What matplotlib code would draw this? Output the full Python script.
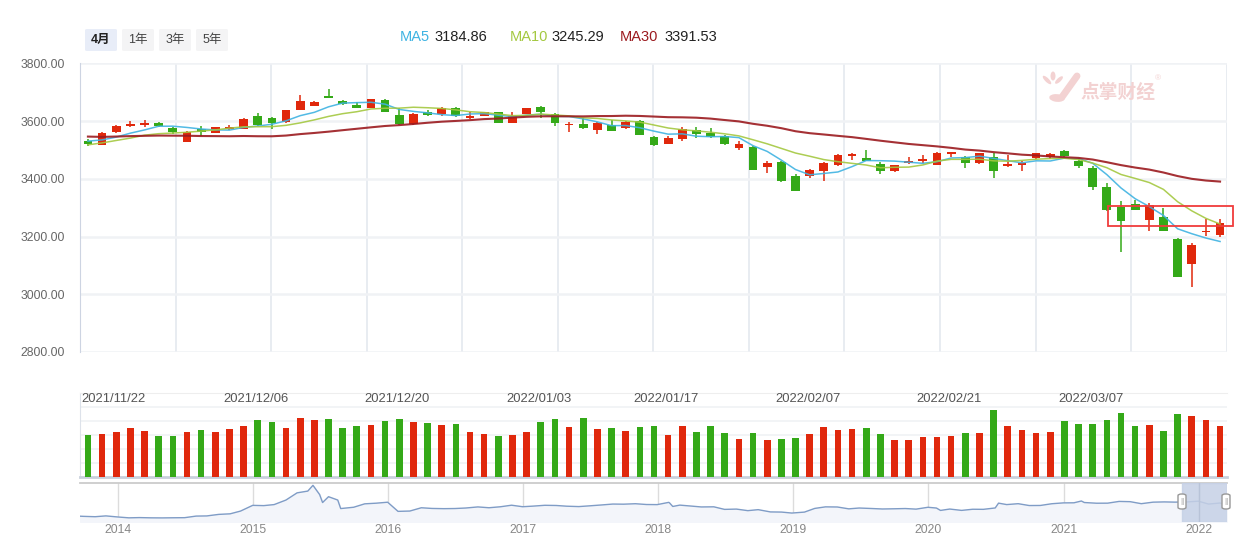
import numpy as np
import pandas as pd
import matplotlib
matplotlib.use("Agg")
import matplotlib.pyplot as plt
from matplotlib.patches import Rectangle, FancyBboxPatch, Ellipse
from matplotlib.lines import Line2D

plt.rcParams['font.family'] = ['Liberation Sans', 'Noto Sans CJK SC', 'DejaVu Sans']

# daily candles, first bar 2021/11/18, last bar 2022/03/18
opens = [3530, 3518, 3561, 3582, 3587, 3593, 3576, 3528, 3572, 3560,
         3572, 3574, 3616, 3610, 3595, 3639, 3653, 3687, 3670, 3655,
         3646, 3673, 3621, 3590, 3633, 3626, 3644, 3610, 3618, 3630,
         3594, 3626, 3649, 3626, 3586, 3590, 3570, 3587, 3576, 3600,
         3545, 3521, 3538, 3569, 3558, 3549, 3507, 3511, 3441, 3457,
         3409, 3408, 3427, 3447, 3480, 3471, 3450, 3428, 3454, 3460,
         3448, 3485, 3477, 3454, 3475, 3444, 3447, 3471, 3476, 3495,
         3461, 3439, 3370, 3302, 3311, 3257, 3269, 3190, 3104, 3215,
         3205]
highs = [3537, 3563, 3586, 3599, 3603, 3597, 3578, 3564, 3584, 3580,
         3586, 3610, 3628, 3614, 3639, 3690, 3668, 3711, 3673, 3667,
         3677, 3675, 3644, 3627, 3639, 3647, 3647, 3632, 3632, 3632,
         3630, 3646, 3651, 3629, 3598, 3609, 3595, 3605, 3600, 3603,
         3549, 3549, 3579, 3580, 3576, 3551, 3530, 3513, 3462, 3460,
         3415, 3434, 3458, 3485, 3489, 3499, 3457, 3449, 3475, 3482,
         3493, 3493, 3480, 3490, 3489, 3482, 3462, 3491, 3488, 3499,
         3468, 3445, 3384, 3322, 3326, 3315, 3298, 3196, 3176, 3260,
         3260]
lows = [3514, 3516, 3559, 3578, 3578, 3581, 3555, 3526, 3549, 3557,
        3568, 3572, 3584, 3572, 3593, 3637, 3651, 3679, 3656, 3644,
        3644, 3630, 3587, 3588, 3618, 3618, 3613, 3607, 3616, 3593,
        3593, 3624, 3610, 3584, 3563, 3574, 3555, 3564, 3572, 3550,
        3515, 3519, 3532, 3541, 3541, 3518, 3500, 3431, 3419, 3390,
        3358, 3402, 3393, 3444, 3466, 3462, 3418, 3424, 3452, 3456,
        3446, 3475, 3438, 3452, 3401, 3440, 3427, 3468, 3470, 3476,
        3437, 3362, 3289, 3146, 3292, 3219, 3219, 3061, 3025, 3202,
        3198]
closes = [3520, 3560, 3583, 3590, 3593, 3584, 3561, 3561, 3563, 3578,
          3580, 3607, 3586, 3593, 3638, 3669, 3665, 3681, 3658, 3646,
          3675, 3632, 3590, 3624, 3621, 3644, 3616, 3617, 3630, 3594,
          3618, 3644, 3632, 3594, 3590, 3577, 3593, 3566, 3596, 3552,
          3518, 3541, 3571, 3555, 3544, 3521, 3522, 3431, 3456, 3393,
          3358, 3431, 3454, 3482, 3486, 3463, 3428, 3447, 3463, 3467,
          3491, 3492, 3454, 3488, 3428, 3451, 3456, 3488, 3485, 3478,
          3445, 3372, 3292, 3254, 3292, 3308, 3219, 3061, 3169, 3217,
          3248]
volumes = [4200, 4300, 4500, 4900, 4600, 4100, 4100, 4500, 4700, 4500,
           4800, 5100, 5700, 5500, 4900, 5900, 5700, 5800, 4900, 5100,
           5200, 5600, 5800, 5500, 5400, 5200, 5300, 4500, 4300, 4100,
           4200, 4500, 5500, 5800, 5000, 5900, 4800, 4900, 4600, 5000,
           5100, 4200, 5100, 4500, 5100, 4400, 3800, 4400, 3700, 3800,
           3900, 4300, 5000, 4700, 4800, 4900, 4300, 3700, 3700, 4000,
           4000, 4100, 4400, 4400, 6700, 5100, 4700, 4400, 4500, 5600,
           5300, 5300, 5700, 6400, 5100, 5200, 4600, 6300, 6100, 5700,
           5100]
# 29 closes before the first bar, needed for the moving averages
prior_closes = [3592, 3546, 3547, 3561, 3558, 3572, 3568, 3593, 3587, 3594,
                3583, 3609, 3598, 3562, 3518, 3547, 3545, 3506, 3498, 3526,
                3492, 3499, 3508, 3492, 3532, 3539, 3534, 3522, 3537]

date_labels = ["2021/11/22", "2021/12/06", "2021/12/20", "2022/01/03",
               "2022/01/17", "2022/02/07", "2022/02/21", "2022/03/07"]
date_label_bars = [0, 10, 20, 30, 39, 49, 59, 69]

ma_names = ["MA5", "MA10", "MA30"]
ma_last = ["3184.86", "3245.29", "3391.53"]
buttons = ["4月", "1年", "3年", "5年"]

# long history shown in the slider below
ov_dates = ["2013-09-20", "2013-09-30", "2013-10-31", "2013-11-29", "2013-12-31",
            "2014-01-30", "2014-02-28", "2014-03-31", "2014-04-30", "2014-05-30",
            "2014-06-30", "2014-07-31", "2014-08-29", "2014-09-30", "2014-10-31",
            "2014-11-28", "2014-12-31", "2015-01-30", "2015-02-27", "2015-03-31",
            "2015-04-30", "2015-05-29", "2015-06-12", "2015-06-30", "2015-07-08",
            "2015-07-24", "2015-08-18", "2015-08-26", "2015-09-30", "2015-10-30",
            "2015-11-30", "2015-12-31", "2016-01-28", "2016-02-29", "2016-03-31",
            "2016-04-29", "2016-05-31", "2016-06-30", "2016-07-29", "2016-08-31",
            "2016-09-30", "2016-10-31", "2016-11-30", "2016-12-30", "2017-01-26",
            "2017-02-28", "2017-03-31", "2017-04-28", "2017-05-31", "2017-06-30",
            "2017-07-31", "2017-08-31", "2017-09-29", "2017-10-31", "2017-11-30",
            "2017-12-29", "2018-01-29", "2018-01-31", "2018-02-09", "2018-02-28",
            "2018-03-30", "2018-04-27", "2018-05-31", "2018-06-29", "2018-07-31",
            "2018-08-31", "2018-09-28", "2018-10-31", "2018-11-30", "2018-12-28",
            "2019-01-31", "2019-02-28", "2019-03-29", "2019-04-30", "2019-05-31",
            "2019-06-28", "2019-07-31", "2019-08-30", "2019-09-30", "2019-10-31",
            "2019-11-29", "2019-12-31", "2020-01-23", "2020-02-03", "2020-02-28",
            "2020-03-31", "2020-04-30", "2020-05-29", "2020-06-30", "2020-07-09",
            "2020-07-31", "2020-08-31", "2020-09-30", "2020-10-30", "2020-11-30",
            "2020-12-31", "2021-01-29", "2021-02-18", "2021-02-26", "2021-03-31",
            "2021-04-30", "2021-05-31", "2021-06-30", "2021-07-30", "2021-08-31",
            "2021-09-30", "2021-10-29", "2021-11-30", "2021-12-31", "2022-01-28",
            "2022-02-28", "2022-03-18"]
ov_close = [2191, 2175, 2141, 2220, 2116,
            2033, 2056, 2033, 2026, 2039,
            2048, 2201, 2217, 2364, 2420,
            2683, 3235, 3210, 3310, 3748,
            4441, 4612, 5166, 4277, 3507,
            4070, 3748, 2927, 3053, 3383,
            3445, 3539, 2656, 2688, 3004,
            2938, 2917, 2930, 2979, 3085,
            3005, 3100, 3250, 3104, 3159,
            3242, 3223, 3155, 3117, 3192,
            3273, 3361, 3349, 3393, 3317,
            3307, 3523, 3481, 3129, 3259,
            3169, 3082, 3095, 2847, 2876,
            2725, 2821, 2603, 2588, 2494,
            2585, 2941, 3091, 3078, 2899,
            2979, 2933, 2886, 2905, 2929,
            2872, 3050, 2977, 2746, 2880,
            2750, 2860, 2852, 2985, 3450,
            3310, 3396, 3218, 3225, 3392,
            3473, 3483, 3655, 3509, 3442,
            3447, 3615, 3591, 3397, 3544,
            3568, 3547, 3564, 3640, 3361,
            3462, 3251]

RED = "#e0280c"
GREEN = "#34a918"
MA_COLORS = ["#3fb3e2", "#a4c840", "#9b1a1f"]
W, H = 1245, 538


def fa(x0, y0, x1, y1):
    # pixel box -> figure fraction rect
    return [x0 / W, 1 - y1 / H, (x1 - x0) / W, (y1 - y0) / H]


fig = plt.figure(figsize=(W / 100, H / 100), dpi=100)
ax = fig.add_axes(fa(80, 63.3, 1226.7, 352))
axv = fig.add_axes(fa(80, 393, 1226.7, 477.3))
axo = fig.add_axes(fa(80, 482.7, 1226.7, 521.7))

o = np.array(opens, float)
c = np.array(closes, float)
x = np.arange(len(c))
cols = np.where(c >= o, RED, GREEN)
xlim = (-0.56, 80.47)

# ---- main candle chart
ax.vlines(x, lows, highs, color=cols, lw=1.1, zorder=3)
ax.bar(x, np.maximum(np.abs(c - o), 4), bottom=np.minimum(o, c), width=0.62,
       color=cols, zorder=4)

series = pd.Series(prior_closes + closes, dtype=float)
for n, col, lw in zip((5, 10, 30), MA_COLORS, (1.1, 1.1, 1.5)):
    ma = series.rolling(n).mean().to_numpy()[len(prior_closes):]
    ax.plot(x, ma, color=col, lw=lw, zorder=5, alpha=0.9)

ax.set_xlim(xlim)
ax.set_ylim(2800, 3800)
ax.set_yticks([2800, 3000, 3200, 3400, 3600, 3800])
ax.set_yticklabels([f"{v:.2f}" for v in ax.get_yticks()])
ax.tick_params(axis="y", length=0, pad=11, labelsize=8.7, labelcolor="#666666")
ax.set_xticks([])
ax.grid(axis="y", color="#f0f2f5", lw=1.8)
for xv in np.linspace(xlim[0], xlim[1], 13)[1:]:
    ax.axvline(xv, color="#e6eaf0", lw=1.3, zorder=0)
for s in ["top", "right", "bottom"]:
    ax.spines[s].set_visible(False)
ax.spines["left"].set_color("#cdd4e2")
ax.set_axisbelow(True)

# highlighted area
ax.add_patch(Rectangle((72.06, 3238), 8.84, 66, fill=False, ec="#f03c3c",
                       lw=1.3, zorder=6, clip_on=False))

# ---- volume
axv.bar(x, volumes, width=0.47, color=cols, zorder=3)
axv.set_xlim(xlim)
axv.set_ylim(0, 8430)
axv.set_yticks(np.linspace(0, 8430, 7)[1:-1])
axv.set_yticklabels([])
axv.tick_params(length=0)
axv.set_xticks([])
axv.grid(axis="y", color="#f1f3f6", lw=1.3)
axv.set_axisbelow(True)
axv.spines["right"].set_visible(False)
axv.spines["top"].set_color("#eeeeee")
axv.spines["left"].set_color("#dde2ea")
axv.spines["bottom"].set_color("#c9d0dc")
axv.spines["bottom"].set_linewidth(2)
for lbl, b in zip(date_labels, date_label_bars):
    axv.text(b - 0.45, 0.93, lbl, transform=axv.get_xaxis_transform(),
             ha="left", va="center", fontsize=9.4, color="#555555")

# ---- overview slider
od = pd.to_datetime(ov_dates)
axo.fill_between(od, 1660, ov_close, color="#f3f5fa", zorder=1)
axo.plot(od, ov_close, color="#7f9cc6", lw=1.0, zorder=2)
t0, t1 = pd.Timestamp("2013-09-20"), pd.Timestamp("2022-03-18")
axo.set_xlim(t0, t1)
axo.set_ylim(1660, 5420)
years = pd.to_datetime([f"{y}-01-01" for y in range(2014, 2023)])
axo.set_xticks(years)
axo.set_xticklabels([str(y) for y in range(2014, 2023)])
axo.tick_params(axis="x", length=0, pad=2, labelsize=8.8, labelcolor="#888888")
axo.set_yticks([])
for yd in years:
    axo.axvline(yd, color="#dcdcdc", lw=1, zorder=0)
axo.axvspan(pd.Timestamp("2021-11-17"), t1, color="#c6d1e6", alpha=0.85, zorder=3)
axo.axvline(years[-1], color="#b8c3d8", lw=1, zorder=4)
for s in ["left", "right", "bottom"]:
    axo.spines[s].set_visible(False)
axo.spines["top"].set_color("#cccccc")
axo.spines["top"].set_linewidth(1.3)
for hx in (1178, 1222):
    fig.patches.append(FancyBboxPatch((hx / W, 1 - 509 / H), 8 / W, 15 / H,
                                      boxstyle="round,pad=0,rounding_size=0.003",
                                      transform=fig.transFigure, fc="white",
                                      ec="#999999", lw=1, zorder=5))
    fig.text((hx + 4) / W, 1 - 501.5 / H, "||", ha="center", va="center",
             fontsize=6, color="#999999", zorder=6)

# ---- period buttons
for i, b in enumerate(buttons):
    bx = 85 + 37 * i
    fc = "#e8edf8" if i == 0 else "#f4f4f5"
    fig.patches.append(FancyBboxPatch((bx / W, 1 - 51 / H), 32 / W, 22 / H,
                                      boxstyle="round,pad=0,rounding_size=0.002",
                                      transform=fig.transFigure, fc=fc, ec="none"))
    fig.text((bx + 16) / W, 1 - 40 / H, b, ha="center", va="center",
             fontsize=9, color="#222222" if i == 0 else "#444444",
             weight="bold" if i == 0 else "normal")

# ---- MA legend
for name, val, col, lx, vx in zip(ma_names, ma_last, MA_COLORS,
                                  (400, 510, 620), (434, 551, 664)):
    fig.text(lx / W, 1 - 37 / H, name, color=col, fontsize=10.5, va="center")
    fig.text(vx / W, 1 - 37 / H, val, color="#222222", fontsize=10.5, va="center")

# ---- watermark
pink = "#f3d2d2"
fig.text(1080 / W, 1 - 92 / H, "点掌财经", color=pink, fontsize=13.5,
         weight="bold", va="center", family=["Noto Sans CJK SC"])
fig.text(1155 / W, 1 - 79 / H, "®", color=pink, fontsize=6, va="center")
for (ex, ey, ew, eh, ang) in [(1047, 80, 5, 9, 20), (1053, 76, 5, 9, 0),
                              (1059, 80, 5, 8, -20), (1057, 98, 15, 8, 20)]:
    fig.patches.append(Ellipse((ex / W, 1 - ey / H), ew / W, eh / H, angle=ang,
                               transform=fig.transFigure, fc=pink, ec="none"))
fig.lines.append(Line2D([1062 / W, 1077 / W], [1 - 97 / H, 1 - 76 / H],
                        transform=fig.transFigure, color=pink, lw=5,
                        solid_capstyle="round"))

fig.savefig("out.png", dpi=100)
